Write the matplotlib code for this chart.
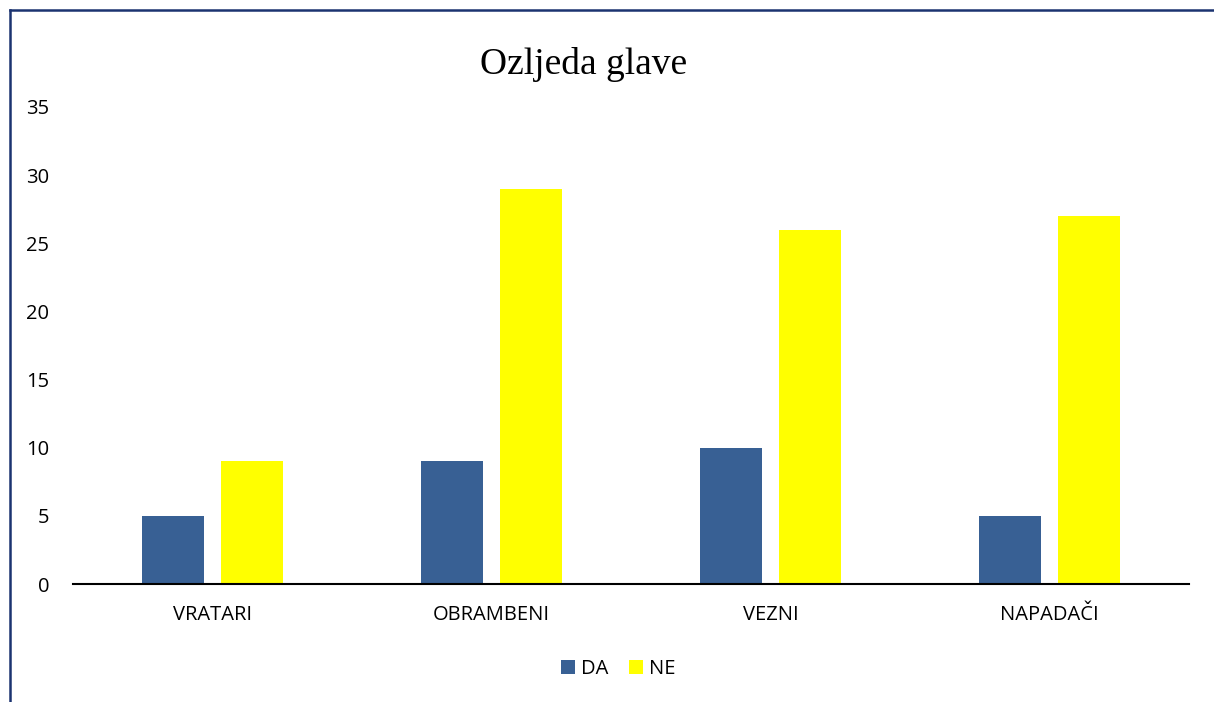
import matplotlib
matplotlib.use("Agg")
import matplotlib.pyplot as plt
from matplotlib.lines import Line2D
import numpy as np

categories = ["VRATARI", "OBRAMBENI", "VEZNI", "NAPADAČI"]
da_values = [5, 9, 10, 5]
ne_values = [9, 29, 26, 27]
series_names = ["DA", "NE"]
yticks = [0, 5, 10, 15, 20, 25, 30, 35]

W, H = 1214, 702
fig = plt.figure(figsize=(W / 100, H / 100), dpi=100)
ax = fig.add_axes([73 / W, 1 - 584 / H, (1189 - 73) / W, (584 - 107) / H])

x = np.arange(len(categories))
bw = 0.222
off = 0.1416
ax.bar(x - off, da_values, bw, color="#386094", label=series_names[0])
ax.bar(x + off, ne_values, bw, color="#FFFF00", label=series_names[1])

ax.set_xlim(-0.5, len(categories) - 0.5)
ax.set_ylim(0, 35)
ax.set_yticks(yticks)
ax.set_xticks(x)
ax.set_xticklabels(categories)
for s in ["top", "right", "left"]:
    ax.spines[s].set_visible(False)
ax.spines["bottom"].set_linewidth(1.5)
ax.spines["bottom"].set_color("black")
ax.tick_params(axis="both", length=0, labelsize=14.5, colors="black")
ax.tick_params(axis="y", pad=17)
ax.tick_params(axis="x", pad=15)
for lab in ax.get_xticklabels() + ax.get_yticklabels():
    lab.set_fontfamily(["Open Sans", "DejaVu Sans"])

fig.text(584 / W, 1 - 65 / H, "Ozljeda glave", ha="center", va="center",
         fontsize=27, family="Liberation Serif", color="black")

leg = fig.legend(loc="center", bbox_to_anchor=(618 / W, 1 - 669 / H), ncol=2,
                 frameon=False, prop={"family": "Open Sans", "size": 14.5},
                 handlelength=0.7, handleheight=0.7, handletextpad=0.3,
                 columnspacing=1.0)

# border lines (left and top)
fig.add_artist(Line2D([9.5 / W, 9.5 / W], [0, 1 - 9.5 / H], transform=fig.transFigure,
                      color="#1B3370", linewidth=1.8))
fig.add_artist(Line2D([9.5 / W, 1], [1 - 9.5 / H, 1 - 9.5 / H], transform=fig.transFigure,
                      color="#1B3370", linewidth=1.8))

fig.savefig("out.png", dpi=100)
